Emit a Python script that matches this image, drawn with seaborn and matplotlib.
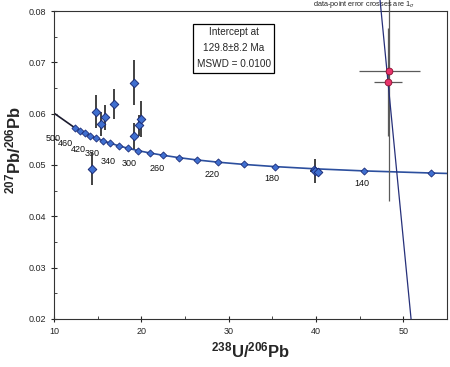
import matplotlib
matplotlib.use("Agg")

import matplotlib.pyplot as plt
import pandas as pd
import seaborn as sns

# --- concordia tick marks (Ma) ---
conc_age = [500, 480, 460, 440, 420, 400, 380, 360, 340, 320,
            300, 280, 260, 240, 220, 200, 180, 160, 140, 120]
conc_x = [12.40, 12.94, 13.52, 14.16, 14.85, 15.62, 16.47, 17.41, 18.46, 19.65,
          20.99, 22.53, 24.30, 26.36, 28.81, 31.74, 35.32, 39.79, 45.55, 53.22]
conc_y = [0.05722, 0.05670, 0.05619, 0.05569, 0.05519, 0.05470, 0.05422, 0.05374,
          0.05326, 0.05279, 0.05233, 0.05188, 0.05143, 0.05098, 0.05054, 0.05011,
          0.04968, 0.04926, 0.04884, 0.04843]
# curve ends beyond the ticks
old_end_x, old_end_y = [10.0, 12.40], [0.0601, 0.05722]
young_end_x, young_end_y = [53.22, 55.0], [0.04843, 0.04835]

# age labels under the curve
label_age = ["500", "460", "420", "380", "340", "300", "260", "220", "180", "140"]
label_x = [9.9, 11.26, 12.75, 14.36, 16.19, 18.60, 21.81, 28.12, 35.0, 45.21]
label_y = [0.05506, 0.05409, 0.05311, 0.05214, 0.05058, 0.05019, 0.04922,
           0.04805, 0.04728, 0.0463]

# measured spots (blue)
pt_x = [14.85, 15.42, 15.88, 16.92, 19.14, 19.21, 19.78, 19.94, 14.32, 39.95, 40.2]
pt_y = [0.0604, 0.0580, 0.0593, 0.0619, 0.0660, 0.0556, 0.0577, 0.0590, 0.0493,
        0.0488, 0.0486]
pt_xerr = [0, 0, 0, 0, 0, 0, 0, 0, 0, 0.65, 0]
pt_yerr = [0.0032, 0.0024, 0.0024, 0.0029, 0.0044, 0.0025, 0.0020, 0.0035,
           0.0033, 0.0024, 0]

# spots used in the regression (red)
red_x = [48.42, 48.23]
red_y = [0.0684, 0.0662]
red_xerr = [3.48, 1.59]
red_yerr = [0.0255, 0.0105]

# discordia line
disc_x = [47.35, 50.9]
disc_y = [0.0821, 0.02]

sns.set_style("ticks")
plt.rcParams["font.family"] = ["Liberation Sans", "DejaVu Sans"]
plt.rcParams["mathtext.fontset"] = "custom"
plt.rcParams["mathtext.rm"] = "Liberation Sans"
plt.rcParams["mathtext.bf"] = "Liberation Sans:bold"
plt.rcParams["mathtext.it"] = "Liberation Sans:italic"

fig = plt.figure(figsize=(4.5, 3.67), dpi=100)
ax = fig.add_axes([0.12, 0.131, 0.873, 0.839])

conc = pd.DataFrame({"x": conc_x, "y": conc_y})

# concordia curve
ax.plot(old_end_x, old_end_y, color="#1a1a2e", lw=1.2)
sns.lineplot(data=conc, x="x", y="y", ax=ax, color="#2c4f9e", lw=1.2,
             sort=False, estimator=None)
ax.plot(young_end_x, young_end_y, color="#2c4f9e", lw=1.2)
sns.scatterplot(data=conc, x="x", y="y", ax=ax, marker="D", s=13,
                color="#3f6fd0", edgecolor="#1c2d78", linewidth=0.6, zorder=4)

for txt, lx, ly in zip(label_age, label_x, label_y):
    ax.text(lx, ly, txt, fontsize=6.5, ha="center", va="center", color="#111111")

# blue spots with error bars
ax.errorbar(pt_x, pt_y, xerr=pt_xerr, yerr=pt_yerr, fmt="none",
            ecolor="#333333", elinewidth=1.3, zorder=3)
pts = pd.DataFrame({"x": pt_x, "y": pt_y})
sns.scatterplot(data=pts, x="x", y="y", ax=ax, marker="D", s=19,
                color="#3f6fd0", edgecolor="#1c2d78", linewidth=0.7, zorder=5)

# red spots, error crosses and discordia
eb = ax.errorbar(red_x, red_y, xerr=red_xerr, yerr=red_yerr, fmt="none",
                 ecolor="#5a5a5a", elinewidth=0.9, zorder=3)
for art in eb.lines[2]:
    art.set_clip_on(False)
ax.plot(disc_x, disc_y, color="#26307a", lw=0.9, clip_on=False, zorder=4)
reds = pd.DataFrame({"x": red_x, "y": red_y})
sns.scatterplot(data=reds, x="x", y="y", ax=ax, marker="o", s=24,
                color="#e8336b", edgecolor="#8a1030", linewidth=0.6, zorder=6)

# annotation box
ax.text(30.6, 0.0727, "Intercept at\n129.8\u00b18.2 Ma\nMSWD = 0.0100",
        ha="center", va="center", fontsize=7.2, linespacing=1.75,
        bbox=dict(boxstyle="square,pad=0.35", fc="white", ec="black", lw=0.9))
ax.text(39.7, 0.0802, r"data-point error crosses are 1$_\sigma$",
        fontsize=5.3, ha="left", va="bottom")

ax.set_xlim(10, 55)
ax.set_ylim(0.02, 0.08)
ax.set_xticks([10, 20, 30, 40, 50])
ax.set_xticks([15, 25, 35, 45], minor=True)
ax.set_yticks([0.02, 0.03, 0.04, 0.05, 0.06, 0.07, 0.08])
ax.set_yticks([0.025, 0.035, 0.045, 0.055, 0.065, 0.075], minor=True)
ax.set_yticklabels(["0.02", "0.03", "0.04", "0.05", "0.06", "0.07", "0.08"])
ax.tick_params(axis="both", which="major", direction="inout", length=5,
               width=0.8, labelsize=6.5, pad=3)
ax.tick_params(axis="both", which="minor", direction="in", length=2, width=0.6)
for sp in ax.spines.values():
    sp.set_linewidth(0.8)
    sp.set_color("#333333")

ax.set_xlabel(r"$\mathbf{^{238}U/^{206}Pb}$", fontsize=12)
ax.set_ylabel(r"$\mathbf{^{207}Pb/^{206}Pb}$", fontsize=12)
ax.xaxis.set_label_coords(0.5, -0.07)
ax.yaxis.set_label_coords(-0.079, 0.55)

fig.savefig("out.png", dpi=100)
